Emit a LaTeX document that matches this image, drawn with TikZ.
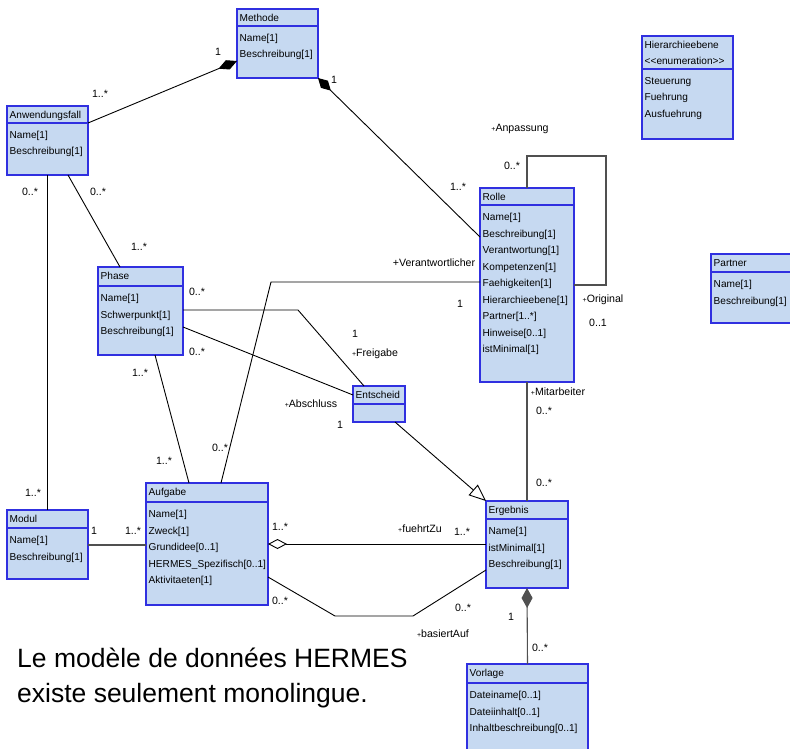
\documentclass[tikz,border=0pt]{standalone}
\usepackage{fontspec}
\setmainfont{Liberation Sans}
\usetikzlibrary{arrows.meta,calc}
\definecolor{clsfill}{HTML}{C6D9F1}
\definecolor{clsedge}{HTML}{3030E0}
\definecolor{linegray}{HTML}{505050}
\newcommand\smallplus{{\fontsize{7}{7}\selectfont+}}
\newcommand\umlclass[8]{%
  \node[cls, minimum width=#4pt, minimum height=#5pt] (#1) at (#2,#3) {};
  \draw[clsedge, line width=1.2pt] ([yshift=-#6pt]#1.north west) -- ([yshift=-#6pt]#1.north east);
  \foreach \t [count=\i] in {#7}{%
    \pgfmathsetmacro\yy{12.5+(\i-1)*16.5}
    \node[clstxt] (#1-h\i) at ([xshift=2.5pt,yshift=-\yy pt]#1.north west) {\t};}
  \foreach \t [count=\i] in {#8}{%
    \pgfmathsetmacro\yy{#6+15.5+(\i-1)*16.5}
    \node[clstxt] (#1-r\i) at ([xshift=2.5pt,yshift=-\yy pt]#1.north west) {\t};}
}
\tikzset{
  cls/.style={draw=clsedge, fill=clsfill, line width=1.2pt, anchor=north west, inner sep=0pt, outer sep=0pt},
  clstxt/.style={anchor=base west, inner sep=0pt, font=\fontsize{10.1}{12}\selectfont},
  lbl/.style={inner sep=0pt, font=\fontsize{10.6}{12}\selectfont},
  conn/.style={draw=black, line width=0.9pt},
  conng/.style={draw=linegray, line width=1.1pt},
  bigtxt/.style={anchor=base west, inner sep=0pt, align=left, font=\fontsize{26.5}{35}\selectfont}
}
\begin{document}
\begin{tikzpicture}[x=1pt,y=-1pt]
\fill[white] (0,0) rectangle (790,749);
\useasboundingbox (0,0) rectangle (790,749);

% classes
\umlclass{methode}{237}{9}{81}{69}{17}{Methode}{Name[1],Beschreibung[1]}
\umlclass{anw}{7}{106}{81}{69}{17}{Anwendungsfall}{Name[1],Beschreibung[1]}
\umlclass{rolle}{480}{188}{94}{194}{17}{Rolle}{Name[1],Beschreibung[1],Verantwortung[1],Kompetenzen[1],Faehigkeiten[1],Hierarchieebene[1],Partner[1..*],Hinweise[0..1],istMinimal[1]}
\umlclass{hier}{642}{36}{91}{103}{33}{Hierarchieebene,<\kern0pt<enumeration>\kern0pt>}{Steuerung,Fuehrung,Ausfuehrung}
\umlclass{partner}{711}{254}{86}{69}{18}{Partner}{Name[1],Beschreibung[1]}
\umlclass{phase}{98}{267}{85}{88}{19}{Phase}{Name[1],Schwerpunkt[1],Beschreibung[1]}
\umlclass{entscheid}{353}{386}{52}{36}{18}{Entscheid}{}
\umlclass{modul}{7}{510}{81}{69}{18}{Modul}{Name[1],Beschreibung[1]}
\umlclass{aufgabe}{146}{483}{122}{122}{19}{Aufgabe}{Name[1],Zweck[1],Grundidee[0..1],HERMES\_Spezifisch[0..1],Aktivitaeten[1]}
\umlclass{ergebnis}{486}{501}{82}{87}{18}{Ergebnis}{Name[1],istMinimal[1],Beschreibung[1]}
\umlclass{vorlage}{467}{664}{121}{95}{19}{Vorlage}{Dateiname[0..1],Dateiinhalt[0..1],Inhaltbeschreibung[0..1]}

% connectors
\draw[conn, -{Diamond[length=20pt,width=10pt]}] ($(anw.north east)+(0,17)$) -- ($(methode.north west)+(0,52)$);
\draw[conn, {Diamond[length=18pt,width=10pt]}-] (methode.south east) -- ($(rolle.north west)+(0,49)$);
\draw[conng] (rolle.north) -- ++(0,-32) -| ($(rolle.north east)+(32,97)$) -- ($(rolle.north east)+(0,97)$);
\draw[conn] ($(aufgabe.north west)+(75,0)$) -- ($(rolle.north west)+(-209,94)$) -- ($(rolle.north west)+(0,94)$);
\draw[conn] (anw.south) -- (modul.north);
\draw[conn] ($(anw.south west)+(61,0)$) -- ($(phase.north west)+(22,0)$);
\draw[conn] ($(phase.south west)+(57,0)$) -- ($(aufgabe.north west)+(43,0)$);
\draw[conn] ($(phase.north east)+(0,43)$) -- ($(entscheid.north west)+(-55,-76)$) -- ($(entscheid.north west)+(11,0)$);
\draw[conn] ($(phase.north east)+(0,60)$) -- ($(entscheid.north west)+(0,9)$);
\draw[conn, -{Triangle[open, length=17pt, width=14pt, fill=white]}] ($(entscheid.south west)+(42,0)$) -- (ergebnis.north west);
\draw[conng] (rolle.south) -- (ergebnis.north);
\draw[conng] ($(modul.north east)+(0,35)$) -- ($(aufgabe.north west)+(0,62)$);
\draw[conn, {Diamond[length=19pt,width=10pt,open,fill=white]}-] ($(aufgabe.north east)+(0,61)$) -- ($(ergebnis.north west)+(0,43)$);
\draw[conn] ($(aufgabe.north east)+(0,94)$) -- ($(aufgabe.north east)+(67,133)$) -- ($(ergebnis.north west)+(-73,115)$) -- ($(ergebnis.north west)+(0,69)$);
\draw[conng, {Diamond[length=20pt,width=11pt]}-] (ergebnis.south) -- (vorlage.north);

% labels
\node[lbl] (m1) at (218,52) {1};
\node[lbl] (m2) at (100,94) {1..*};
\node[lbl] (m3) at (334,80) {1};
\node[lbl] (m4) at (458,187) {1..*};
\node[lbl] (m5) at (520,129) {\smallplus Anpassung};
\node[lbl] (m6) at (512,166) {0..*};
\node[lbl] (m7) at (603,300) {\smallplus Original};
\node[lbl] (m8) at (598,323) {0..1};
\node[lbl] (m9) at (434,263) {+Verantwortlicher};
\node[lbl] (m10) at (460,304) {1};
\node[lbl] (m11) at (220,448) {0..*};
\node[lbl] (m12) at (30,192) {0..*};
\node[lbl] (m13) at (33,493) {1..*};
\node[lbl] (m14) at (98,192) {0..*};
\node[lbl] (m15) at (139,247) {1..*};
\node[lbl] (m16) at (140,373) {1..*};
\node[lbl] (m17) at (164,461) {1..*};
\node[lbl] (m18) at (197,292) {0..*};
\node[lbl] (m19) at (355,334) {1};
\node[lbl] (m20) at (375,354) {\smallplus Freigabe};
\node[lbl] (m21) at (197,352) {0..*};
\node[lbl] (m22) at (311,404) {\smallplus Abschluss};
\node[lbl] (m23) at (340,425) {1};
\node[lbl] (m24) at (558,392) {\smallplus Mitarbeiter};
\node[lbl] (m25) at (544,411) {0..*};
\node[lbl] (m26) at (544,483) {0..*};
\node[lbl] (m27) at (94,531) {1};
\node[lbl] (m28) at (133,531) {1..*};
\node[lbl] (m29) at (280,527) {1..*};
\node[lbl] (m30) at (420,529) {\smallplus fuehrtZu};
\node[lbl] (m31) at (462,532) {1..*};
\node[lbl] (m32) at (280,601) {0..*};
\node[lbl] (m33) at (463,608) {0..*};
\node[lbl] (m34) at (443,634) {\smallplus basiertAuf};
\node[lbl] (m35) at (511,617) {1};
\node[lbl] (m36) at (540,648) {0..*};

% note
\node[bigtxt] (note) at (17,702) {Le modèle de données HERMES\\existe seulement monolingue.};
\end{tikzpicture}
\end{document}
